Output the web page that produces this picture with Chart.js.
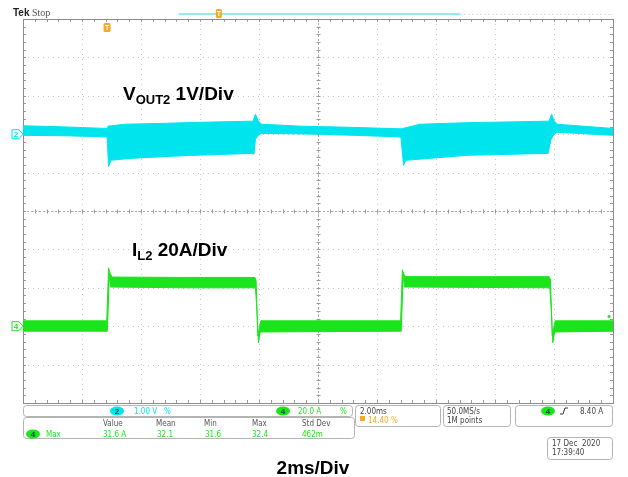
<!DOCTYPE html>
<html><head><meta charset="utf-8">
<script src="https://cdn.jsdelivr.net/npm/chart.js@4.4.0/dist/chart.umd.min.js"></script>
<style>html,body{margin:0;padding:0;background:#fff;}#wrap{width:628px;height:477px;position:relative;}</style>
</head><body><div id="wrap"><canvas id="c" width="628" height="477"></canvas></div>
<script>
// Horizontal: time in ms (2 ms/div, 10 divisions). Vertical: screen divisions from centre (10 divisions).
const timeRangeMs = [0, 20];
const msPerDiv = 2;
const vertRangeDiv = [-5, 5];

// VOUT2 (1 V/div) trace envelope: upper and lower edge of the ripple band, in divisions
const voutUpperT = [0, 1.42, 2.85, 2.88, 3.46, 4.64, 6.0, 7.80, 7.88, 7.97, 8.07, 9.39, 11.08, 12.81, 12.88, 13.46, 15.05, 17.83, 17.92, 18.0, 18.10, 20];
const voutUpper  = [2.22, 2.19, 2.15, 2.21, 2.26, 2.28, 2.31, 2.34, 2.52, 2.36, 2.26, 2.21, 2.18, 2.14, 2.15, 2.26, 2.30, 2.34, 2.52, 2.36, 2.26, 2.15];
const voutLowerT = [0, 1.42, 2.85, 2.90, 2.98, 3.63, 5.42, 7.76, 7.83, 7.88, 7.97, 8.07, 10.07, 12.81, 12.90, 12.98, 15.05, 17.80, 17.90, 18.0, 18.10, 20];
const voutLower  = [1.97, 1.96, 1.93, 1.16, 1.32, 1.37, 1.44, 1.50, 1.48, 1.87, 1.97, 2.02, 2.00, 1.93, 1.19, 1.32, 1.45, 1.50, 1.87, 2.00, 2.05, 1.97];

// IL2 (20 A/div) trace envelope, in divisions
const ilUpperT = [0, 2.84, 2.90, 2.95, 3.02, 5.5, 7.86, 7.90, 7.96, 8.00, 8.06, 12.80, 12.86, 12.91, 12.98, 17.84, 17.88, 17.94, 17.98, 18.04, 20];
const ilUpper  = [-2.86, -2.86, -1.48, -1.62, -1.72, -1.73, -1.73, -1.80, -3.25, -3.10, -2.86, -2.86, -1.53, -1.65, -1.71, -1.71, -1.80, -3.25, -3.10, -2.86, -2.86];
const ilLowerT = [0, 2.86, 2.93, 2.97, 5.5, 7.88, 7.93, 7.98, 8.04, 12.82, 12.89, 12.93, 17.86, 17.91, 17.96, 18.02, 20];
const ilLower  = [-3.13, -3.13, -1.60, -1.98, -2.00, -2.00, -2.60, -3.43, -3.15, -3.13, -1.65, -1.98, -2.00, -2.60, -3.43, -3.15, -3.13];

const channelOffsetDiv = [2.0, -3.0];   // ch2 (cyan), ch4 (green) ground markers
const triggerTimeMs = 2.85;

const CYAN = 'rgb(0,228,238)';
const GREEN = 'rgb(28,228,28)';
const ORANGE = 'rgb(245,170,40)';

function pts(t, v){ return t.map((x,i)=>({x:x, y:v[i]})); }

function rrect(ctx, x, y, w, h, r){
  ctx.beginPath();
  ctx.moveTo(x+r,y); ctx.lineTo(x+w-r,y); ctx.quadraticCurveTo(x+w,y,x+w,y+r);
  ctx.lineTo(x+w,y+h-r); ctx.quadraticCurveTo(x+w,y+h,x+w-r,y+h);
  ctx.lineTo(x+r,y+h); ctx.quadraticCurveTo(x,y+h,x,y+h-r);
  ctx.lineTo(x,y+r); ctx.quadraticCurveTo(x,y,x+r,y); ctx.closePath();
}
function badge(ctx, cx, cy, color, txt){
  ctx.save();
  ctx.fillStyle = color;
  ctx.beginPath(); ctx.ellipse(cx, cy, 7, 4.5, 0, 0, Math.PI*2); ctx.fill();
  ctx.fillStyle = '#1a4a4a'; ctx.font = 'bold 8px "Liberation Sans"';
  ctx.textAlign='center'; ctx.textBaseline='middle';
  ctx.fillText(txt, cx, cy+0.5);
  ctx.restore();
}

const gridPlugin = {
  id: 'scopeGrid',
  beforeDatasetsDraw(chart){
    const {ctx, chartArea:a, scales:{x, y}} = chart;
    ctx.save();
    ctx.lineWidth = 1;
    const nx = (timeRangeMs[1]-timeRangeMs[0])/msPerDiv;
    const ny = vertRangeDiv[1]-vertRangeDiv[0];
    // dotted major grid
    ctx.strokeStyle = '#c8c8c8';
    ctx.setLineDash([1,4]);
    for(let i=1;i<nx;i++){
      const px = Math.round(x.getPixelForValue(timeRangeMs[0]+i*msPerDiv))+0.5;
      ctx.beginPath(); ctx.moveTo(px, a.top); ctx.lineTo(px, a.bottom); ctx.stroke();
    }
    for(let j=1;j<ny;j++){
      const py = Math.round(y.getPixelForValue(vertRangeDiv[0]+j))+0.5;
      ctx.beginPath(); ctx.moveTo(a.left, py); ctx.lineTo(a.right, py); ctx.stroke();
    }
    // centre cross
    ctx.strokeStyle = '#a8a8a8';
    ctx.setLineDash([2,2]);
    const cx = Math.round(x.getPixelForValue((timeRangeMs[0]+timeRangeMs[1])/2))+0.5;
    const cy = Math.round(y.getPixelForValue(0))+0.5;
    ctx.beginPath(); ctx.moveTo(cx, a.top); ctx.lineTo(cx, a.bottom); ctx.stroke();
    ctx.beginPath(); ctx.moveTo(a.left, cy); ctx.lineTo(a.right, cy); ctx.stroke();
    ctx.setLineDash([]);
    // minor ticks on centre cross and border
    ctx.strokeStyle = '#9a9a9a';
    for(let k=1;k<nx*5;k++){
      const px = Math.round(x.getPixelForValue(timeRangeMs[0]+k*msPerDiv/5))+0.5;
      ctx.beginPath();
      ctx.moveTo(px, cy-2); ctx.lineTo(px, cy+2);
      ctx.moveTo(px, a.top); ctx.lineTo(px, a.top+3);
      ctx.moveTo(px, a.bottom); ctx.lineTo(px, a.bottom-3);
      ctx.stroke();
    }
    for(let k=1;k<ny*5;k++){
      const py = Math.round(y.getPixelForValue(vertRangeDiv[0]+k/5))+0.5;
      ctx.beginPath();
      ctx.moveTo(cx-2, py); ctx.lineTo(cx+2, py);
      ctx.moveTo(a.left, py); ctx.lineTo(a.left+3, py);
      ctx.moveTo(a.right, py); ctx.lineTo(a.right-3, py);
      ctx.stroke();
    }
    // frame
    ctx.strokeStyle = '#8c8c8c';
    ctx.strokeRect(Math.round(a.left)+0.5, Math.round(a.top)+0.5, Math.round(a.right-a.left), Math.round(a.bottom-a.top));
    ctx.restore();
  },
  afterDraw(chart){
    const {ctx, chartArea:a, scales:{x, y}} = chart;
    ctx.save();
    // header
    ctx.textBaseline = 'alphabetic';
    ctx.font = 'bold 10px "Liberation Sans"'; ctx.fillStyle = '#222';
    ctx.fillText('Tek', 13, 16);
    ctx.font = '10px "Liberation Serif"'; ctx.fillStyle = '#555';
    ctx.fillText('Stop', 32, 16);
    // record bar
    const w = a.right - a.left;
    const bl = a.left + 0.264*w, br = a.left + 0.741*w;
    ctx.fillStyle = 'rgb(150,236,236)';
    ctx.fillRect(bl, 13, br-bl, 2);
    ctx.strokeStyle = '#dddddd'; ctx.setLineDash([2,2]);
    ctx.beginPath(); ctx.moveTo(br, 14.5); ctx.lineTo(a.right, 14.5); ctx.stroke(); ctx.setLineDash([]);
    const tm = bl + (triggerTimeMs - timeRangeMs[0])/(timeRangeMs[1]-timeRangeMs[0])*(br-bl);
    ctx.fillStyle = ORANGE; rrect(ctx, tm-3, 9, 6, 9, 1.5); ctx.fill();
    ctx.fillStyle = '#fff'; ctx.fillRect(tm-2, 11, 4, 1); ctx.fillRect(tm-0.5, 11, 1, 5);
    // trigger position marker
    const tx = x.getPixelForValue(triggerTimeMs);
    ctx.fillStyle = ORANGE; rrect(ctx, tx-3.5, a.top+4, 7, 9, 1.5); ctx.fill();
    ctx.fillStyle = '#fff'; ctx.fillRect(tx-2, a.top+6, 4, 1); ctx.fillRect(tx-0.5, a.top+6, 1, 5);

    // channel ground markers
    const marks = [[channelOffsetDiv[0], CYAN, '2'], [channelOffsetDiv[1], GREEN, '4']];
    for(const [d, col, lab] of marks){
      const py = y.getPixelForValue(d);
      ctx.strokeStyle = col; ctx.lineWidth = 1; ctx.fillStyle='#fff';
      ctx.beginPath();
      ctx.moveTo(a.left-11, py-4.5); ctx.lineTo(a.left-4, py-4.5); ctx.lineTo(a.left, py);
      ctx.lineTo(a.left-4, py+4.5); ctx.lineTo(a.left-11, py+4.5); ctx.closePath();
      ctx.fill(); ctx.stroke();
      ctx.fillStyle = col; ctx.font = 'bold 8px "Liberation Sans"';
      ctx.textAlign='center'; ctx.textBaseline='middle';
      ctx.fillText(lab, a.left-7, py+0.5);
      ctx.textAlign='left'; ctx.textBaseline='alphabetic';
    }
    // right-side small marker
    ctx.fillStyle = GREEN; ctx.beginPath(); ctx.arc(a.right-4, y.getPixelForValue(-2.75), 1.5, 0, Math.PI*2); ctx.fill();

    // big labels
    ctx.fillStyle = '#000';
    function labelSub(main, sub, rest, x0, yb){
      ctx.font = 'bold 19px "Liberation Sans"';
      ctx.fillText(main, x0, yb); let xx = x0 + ctx.measureText(main).width;
      ctx.font = 'bold 13px "Liberation Sans"';
      ctx.fillText(sub, xx, yb+4); xx += ctx.measureText(sub).width;
      ctx.font = 'bold 19px "Liberation Sans"';
      ctx.fillText(rest, xx, yb);
    }
    labelSub('V', 'OUT2', ' 1V/Div', 123, 100);
    labelSub('I', 'L2', ' 20A/Div', 132, 256);
    ctx.font = 'bold 19px "Liberation Sans"'; ctx.textAlign = 'center';
    ctx.fillText('2ms/Div', 313, 474);
    ctx.textAlign = 'left';

    // readout boxes
    ctx.lineWidth = 1; ctx.strokeStyle = '#b4b4b4';
    const boxes = [[23.5,405.5,329,11],[23.5,417.5,331,21],[355.5,405.5,85,21],[443.5,405.5,67,21],[515.5,405.5,97,21],[547.5,437.5,65,22]];
    for(const b of boxes){ rrect(ctx, b[0], b[1], b[2], b[3], 3); ctx.stroke(); }
    ctx.font = '8px "DejaVu Sans Condensed", "Liberation Sans"';
    badge(ctx, 117, 411, CYAN, '2');
    ctx.fillStyle = CYAN; ctx.fillText('1.00 V   %', 134, 414);
    badge(ctx, 283, 411, GREEN, '4');
    ctx.fillStyle = GREEN; ctx.font = '8px "DejaVu Sans Condensed", "Liberation Sans"';
    ctx.fillText('20.0 A', 298, 414); ctx.fillText('%', 340, 414);
    ctx.fillStyle = '#555';
    const heads = [['Value',103],['Mean',156],['Min',204],['Max',252],['Std Dev',302]];
    for(const [t, xx] of heads) ctx.fillText(t, xx, 426);
    badge(ctx, 33, 434, GREEN, '4');
    ctx.fillStyle = GREEN; ctx.font = '8px "DejaVu Sans Condensed", "Liberation Sans"';
    ctx.fillText('Max', 46, 437);
    const vals = [['31.6 A',103],['32.1',157],['31.6',205],['32.4',252],['462m',302]];
    for(const [t, xx] of vals) ctx.fillText(t, xx, 437);
    ctx.fillStyle = '#444';
    ctx.fillText('2.00ms', 360, 414);
    ctx.fillStyle = ORANGE; ctx.fillRect(360, 416, 5, 5);
    ctx.fillText('14.40 %', 368, 423);
    ctx.fillStyle = '#444';
    ctx.fillText('50.0MS/s', 447, 414);
    ctx.fillText('1M points', 447, 423);
    badge(ctx, 548, 411, GREEN, '4');
    ctx.strokeStyle = '#333'; ctx.lineWidth = 1;
    ctx.beginPath(); ctx.moveTo(560, 414); ctx.lineTo(563, 414); ctx.lineTo(565, 408); ctx.lineTo(568, 408); ctx.stroke();
    ctx.fillStyle = '#444'; ctx.font = '8px "DejaVu Sans Condensed", "Liberation Sans"';
    ctx.fillText('8.40 A', 580, 414);
    ctx.fillText('17 Dec  2020', 552, 446);
    ctx.fillText('17:39:40', 552, 455);
    ctx.restore();
  }
};

new Chart(document.getElementById('c'), {
  type: 'line',
  data: {
    datasets: [
      {data: pts(voutUpperT, voutUpper), borderColor: CYAN, backgroundColor: CYAN, borderWidth: 1, pointRadius: 0, fill: false},
      {data: pts(voutLowerT, voutLower), borderColor: CYAN, backgroundColor: CYAN, borderWidth: 1, pointRadius: 0, fill: '-1'},
      {data: pts(ilUpperT, ilUpper), borderColor: GREEN, backgroundColor: GREEN, borderWidth: 1, pointRadius: 0, fill: false},
      {data: pts(ilLowerT, ilLower), borderColor: GREEN, backgroundColor: GREEN, borderWidth: 1, pointRadius: 0, fill: '-1'}
    ]
  },
  options: {
    responsive: false, animation: false, devicePixelRatio: 1,
    layout: {padding: {left: 23, top: 19, right: 15, bottom: 74}},
    elements: {line: {tension: 0}},
    plugins: {legend: {display: false}, tooltip: {enabled: false}},
    scales: {
      x: {type: 'linear', min: timeRangeMs[0], max: timeRangeMs[1], display: false},
      y: {type: 'linear', min: vertRangeDiv[0], max: vertRangeDiv[1], display: false}
    }
  },
  plugins: [gridPlugin]
});
</script>
</body></html>
